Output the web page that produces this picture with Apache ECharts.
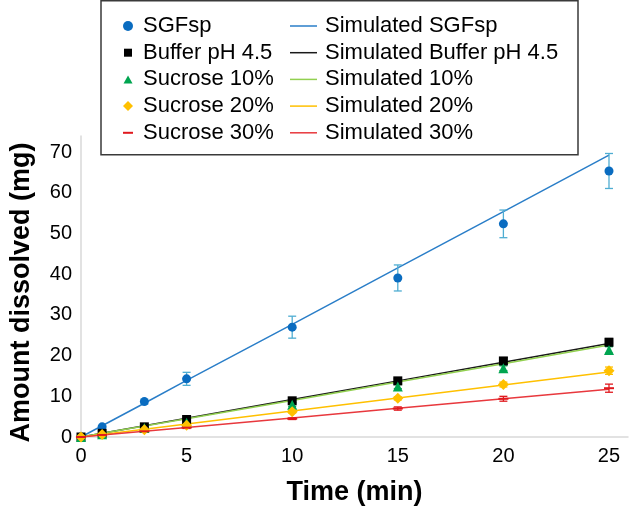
<!DOCTYPE html>
<html>
<head>
<meta charset="utf-8">
<script src="https://cdn.jsdelivr.net/npm/echarts@6/dist/echarts.min.js"></script>
<style>html,body{margin:0;padding:0;background:#fff}#c{width:630px;height:506px}</style>
</head>
<body>
<div id="c"></div>
<script>
// ---- data ----
var time = [0, 1, 3, 5, 10, 15, 20, 25];
var sgfsp = [0, 2.5, 8.7, 14.3, 27.0, 39.1, 52.4, 65.4];
var sgfspErr = [0, 0.3, 0.6, 1.6, 2.7, 3.2, 3.4, 4.3];
var buffer = [0, 0.9, 2.5, 4.3, 8.9, 13.8, 18.7, 23.3];
var bufferErr = [0, 0.1, 0.2, 0.3, 0.4, 0.5, 0.8, 0.9];
var suc10 = [0, 0.7, 2.2, 3.5, 7.9, 12.4, 16.9, 21.4];
var suc10Err = [0, 0.1, 0.2, 0.3, 0.4, 0.5, 0.6, 0.8];
var suc20 = [0, 0.6, 1.8, 2.9, 6.2, 9.5, 12.9, 16.3];
var suc20Err = [0, 0.1, 0.1, 0.2, 0.3, 0.4, 0.6, 0.9];
var suc30 = [0, 0.5, 1.4, 2.3, 4.5, 7.0, 9.4, 12.0];
var suc30Err = [0, 0.1, 0.1, 0.2, 0.2, 0.4, 0.6, 1.0];

var simTime = [0, 1, 3, 5, 10, 15, 20, 25];
var simSgfsp = [0, 2.77, 8.3, 13.9, 27.7, 41.6, 55.4, 69.3];
var simBuffer = [0, 0.92, 2.76, 4.6, 9.2, 13.8, 18.4, 23.0];
var simSuc10 = [0, 0.9, 2.7, 4.5, 9.0, 13.5, 18.0, 22.6];
var simSuc20 = [0, 0.64, 1.92, 3.2, 6.4, 9.6, 12.8, 16.0];
var simSuc30 = [0, 0.47, 1.41, 2.35, 4.7, 7.05, 9.4, 11.75];

var xTicks = [0, 5, 10, 15, 20, 25];
var yTicks = [0, 10, 20, 30, 40, 50, 60, 70];

var dataNames = ['SGFsp', 'Buffer pH 4.5', 'Sucrose 10%', 'Sucrose 20%', 'Sucrose 30%'];
var simNames = ['Simulated SGFsp', 'Simulated Buffer pH 4.5', 'Simulated 10%', 'Simulated 20%', 'Simulated 30%'];

// ---- styles ----
var FONT = "'Liberation Sans', Arial, sans-serif";
var markerColors = ['#0a6cc0', '#000000', '#00a550', '#ffc000', '#e0191e'];
var errColors = ['#4fadd2', '#000000', '#00a550', '#ffc000', '#e0191e'];
var simColors = ['#2a7ec8', '#1a1a1a', '#92d050', '#ffc000', '#e8383d'];
var dashPath = 'path://M0,0L0,0M10,10L10,10M0,4H10V6H0Z';
var seriesSymbols = ['circle', 'rect', 'triangle', 'diamond', dashPath];
var symbolSizes = [9, 9, 10, 11, 10];
var legendIcons = [
  'circle',
  'path://M0,0L0,0M10,10L10,10M1,1H9V9H1Z',
  'path://M0,0L0,0M10,10L10,10M5,1L9.5,9H0.5Z',
  'diamond',
  dashPath
];
var lineIcon = 'path://M0,0L0,0M27,10L27,10M0,4.25H27V5.75H0Z';

var values = [sgfsp, buffer, suc10, suc20, suc30];
var errs = [sgfspErr, bufferErr, suc10Err, suc20Err, suc30Err];
var sims = [simSgfsp, simBuffer, simSuc10, simSuc20, simSuc30];

function pairs(xs, ys) { return xs.map(function (x, i) { return [x, ys[i]]; }); }
function errData(xs, ys, es) { return xs.map(function (x, i) { return [x, ys[i] - es[i], ys[i] + es[i]]; }); }

function makeErrRender(color) {
  return function (params, api) {
    var x = api.value(0), lo = api.value(1), hi = api.value(2);
    var p1 = api.coord([x, hi]), p2 = api.coord([x, lo]);
    var w = 4;
    var st = { stroke: color, lineWidth: 1.3 };
    return {
      type: 'group',
      children: [
        { type: 'line', shape: { x1: p1[0], y1: p1[1], x2: p2[0], y2: p2[1] }, style: st },
        { type: 'line', shape: { x1: p1[0] - w, y1: p1[1], x2: p1[0] + w, y2: p1[1] }, style: st },
        { type: 'line', shape: { x1: p2[0] - w, y1: p2[1], x2: p2[0] + w, y2: p2[1] }, style: st }
      ]
    };
  };
}

var series = [];
// simulated lines
sims.forEach(function (s, i) {
  series.push({
    name: simNames[i], type: 'line', data: pairs(simTime, s),
    symbol: 'none', showSymbol: false, smooth: false,
    lineStyle: { color: simColors[i], width: 1.5 },
    itemStyle: { color: simColors[i] },
    z: 2, silent: true
  });
});
// error bars
values.forEach(function (v, i) {
  series.push({
    name: dataNames[i] + ' err', type: 'custom',
    data: errData(time, v, errs[i]),
    renderItem: makeErrRender(errColors[i]),
    encode: { x: 0, y: [1, 2] },
    z: 3, silent: true
  });
});
// markers
values.forEach(function (v, i) {
  series.push({
    name: dataNames[i], type: 'scatter', data: pairs(time, v),
    symbol: seriesSymbols[i], symbolSize: symbolSizes[i],
    itemStyle: { color: markerColors[i], opacity: 1 },
    z: 4, silent: true
  });
});

var option = {
  animation: false,
  backgroundColor: '#ffffff',
  textStyle: { fontFamily: FONT },
  graphic: [{
    type: 'rect', z: 0,
    shape: { x: 101, y: 0.75, width: 477, height: 154 },
    style: { fill: '#ffffff', stroke: '#3a3a3a', lineWidth: 1.5 }
  }],
  grid: { left: 81, right: 2, top: 136, bottom: 69, containLabel: false, outerBoundsMode: 'none' },
  xAxis: {
    type: 'value', min: 0, max: 25.9, interval: 5,
    name: 'Time (min)', nameLocation: 'middle', nameGap: 42,
    nameTextStyle: { fontFamily: FONT, fontSize: 27, fontWeight: 'bold', color: '#000' },
    axisLine: { show: true, lineStyle: { color: '#d9d9d9', width: 1.5 } },
    axisTick: { show: false },
    splitLine: { show: false },
    axisLabel: {
      fontFamily: FONT, fontSize: 20, color: '#000', margin: 9,
      formatter: function (v) { return xTicks.indexOf(v) >= 0 ? String(v) : ''; }
    }
  },
  yAxis: {
    type: 'value', min: 0, max: 74, interval: 10,
    name: 'Amount dissolved (mg)', nameLocation: 'middle', nameGap: 46,
    nameTextStyle: { fontFamily: FONT, fontSize: 27, fontWeight: 'bold', color: '#000', padding: [0, 12, 0, 0] },
    axisLine: { show: true, lineStyle: { color: '#d9d9d9', width: 1.5 } },
    axisTick: { show: false },
    splitLine: { show: false },
    axisLabel: {
      fontFamily: FONT, fontSize: 20, color: '#000', margin: 9,
      formatter: function (v) { return yTicks.indexOf(v) >= 0 ? String(v) : ''; }
    }
  },
  legend: [{
    orient: 'vertical', left: 123, top: 15, padding: 0,
    itemWidth: 10, itemHeight: 10, itemGap: 4.7,
    symbolKeepAspect: true,
    selectedMode: false,
    textStyle: { fontFamily: FONT, fontSize: 22, color: '#000', lineHeight: 22, padding: [0, 0, 0, 5] },
    data: dataNames.map(function (n, i) { return { name: n, icon: legendIcons[i] }; })
  }, {
    orient: 'vertical', left: 290, top: 15, padding: 0,
    itemWidth: 27, itemHeight: 10, itemGap: 4.7,
    symbolKeepAspect: true,
    selectedMode: false,
    textStyle: { fontFamily: FONT, fontSize: 22, color: '#000', lineHeight: 22, padding: [0, 0, 0, 3] },
    data: simNames.map(function (n) { return { name: n, icon: lineIcon }; })
  }],
  series: series
};

var chart = echarts.init(document.getElementById('c'), null, { renderer: 'canvas' });
chart.setOption(option);
</script>
</body>
</html>
